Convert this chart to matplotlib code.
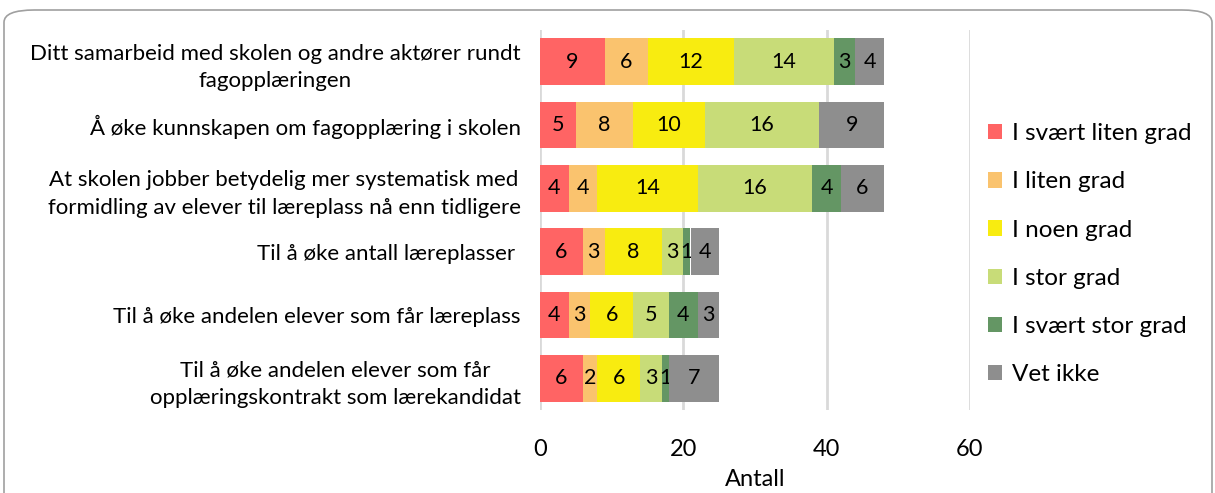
import numpy as np
import matplotlib.pyplot as plt
from matplotlib.patches import FancyBboxPatch

plt.rcParams['font.family'] = ['Lato', 'DejaVu Sans']

categories = [
    "Ditt samarbeid med skolen og andre aktører rundt\nfagopplæringen",
    "Å øke kunnskapen om fagopplæring i skolen",
    "At skolen jobber betydelig mer systematisk med\nformidling av elever til læreplass nå enn tidligere",
    "Til å øke antall læreplasser ",
    "Til å øke andelen elever som får læreplass",
    "Til å øke andelen elever som får\nopplæringskontrakt som lærekandidat",
]
series = ["I svært liten grad", "I liten grad", "I noen grad",
          "I stor grad", "I svært stor grad", "Vet ikke"]
svaert_liten = [9, 5, 4, 6, 4, 6]
liten = [6, 8, 4, 3, 3, 2]
noen = [12, 10, 14, 8, 6, 6]
stor = [14, 16, 16, 3, 5, 3]
svaert_stor = [3, 0, 4, 1, 4, 1]
vet_ikke = [4, 9, 6, 4, 3, 7]
values = [svaert_liten, liten, noen, stor, svaert_stor, vet_ikke]
colors = ["#FF6464", "#FAC36E", "#F8EC10", "#C8DC78", "#649664", "#8E8E8E"]
xticks = [0, 20, 40, 60]

fig = plt.figure(figsize=(12.15, 4.93), dpi=100)
ax = fig.add_axes([540/1215, 1-410/493, 430/1215, 380/493])

# rounded frame around the whole chart (bottom edge runs off the picture)
frame = FancyBboxPatch((4/1215, -20/493), 1208/1215, 503/493,
                       boxstyle="round,pad=0,rounding_size=0.025",
                       transform=fig.transFigure, fill=False,
                       edgecolor="#a0a0a0", linewidth=1.2, clip_on=False)
fig.patches.append(frame)

y = np.arange(len(categories))
left = np.zeros(len(categories))
for name, vals, c in zip(series, values, colors):
    vals = np.array(vals)
    bars = ax.barh(y, vals, left=left, height=0.74, color=c, label=name, zorder=3)
    labels = [str(v) if v > 0 else "" for v in vals]
    ax.bar_label(bars, labels=labels, label_type='center', fontsize=15.5, color='black')
    left += vals

ax.set_xlim(0, 60)
ax.set_ylim(len(categories) - 0.5, -0.5)
ax.set_xticks(xticks)
ax.set_xticklabels([str(t) for t in xticks], fontsize=17)
ax.set_yticks(y)
ax.set_yticklabels(categories, fontsize=16, multialignment='center', linespacing=1.45)
ax.tick_params(axis='both', length=0)
ax.tick_params(axis='x', pad=21)
ax.tick_params(axis='y', pad=14)
ax.grid(axis='x', color='#d9d9d9', linewidth=2, zorder=0)
for s in ax.spines.values():
    s.set_visible(False)
ax.set_xlabel("Antall", fontsize=17, labelpad=6)

ax.legend(loc='center left', bbox_to_anchor=(0.99, 0.41),
          frameon=False, fontsize=17.5, handlelength=0.6, handleheight=0.6,
          handletextpad=0.4, labelspacing=1.12)

fig.savefig("out.png", dpi=100)
